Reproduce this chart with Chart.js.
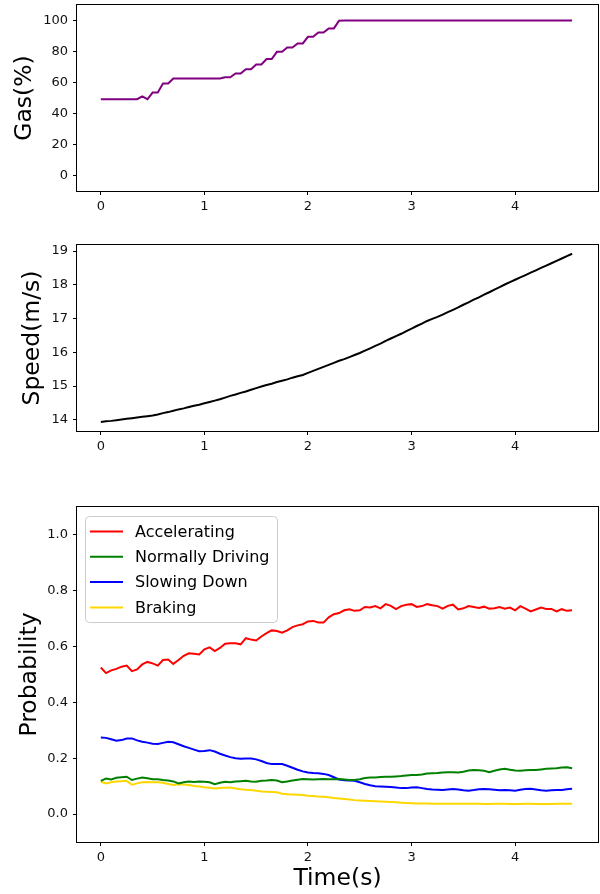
<!DOCTYPE html>
<html>
<head>
<title>Gas, speed and driving state</title>
<script src="https://cdn.jsdelivr.net/npm/chart.js@4"></script>
<style>
body { margin: 0; background: #fff; width: 600px; height: 894px; overflow: hidden; position: relative; }
canvas { position: absolute; left: 0; }
</style>
</head>
<body>
<canvas id="gasChart" width="600" height="222" style="top:0px"></canvas>
<canvas id="speedChart" width="600" height="236" style="top:222px"></canvas>
<canvas id="probChart" width="600" height="436" style="top:458px"></canvas>

<script>
// time axis (s)
var TIME = [0,0.05,0.1,0.15,0.2,0.25,0.3,0.35,0.4,0.45,
  0.5,0.55,0.6,0.65,0.7,0.75,0.8,0.85,0.9,0.95,
  1,1.05,1.1,1.15,1.2,1.25,1.3,1.35,1.4,1.45,
  1.5,1.55,1.6,1.65,1.7,1.75,1.8,1.85,1.9,1.95,
  2,2.05,2.1,2.15,2.2,2.25,2.3,2.35,2.4,2.45,
  2.5,2.55,2.6,2.65,2.7,2.75,2.8,2.85,2.9,2.95,
  3,3.05,3.1,3.15,3.2,3.25,3.3,3.35,3.4,3.45,
  3.5,3.55,3.6,3.65,3.7,3.75,3.8,3.85,3.9,3.95,
  4,4.05,4.1,4.15,4.2,4.25,4.3,4.35,4.4,4.45,
  4.5,4.55];

// Gas(%)
var GAS = [49.2,49.2,49.2,49.2,49.2,49.2,49.2,49.2,51,49.2,
  53.5,53.5,59.3,59.3,62.6,62.6,62.6,62.6,62.6,62.6,
  62.6,62.6,62.6,62.6,63.4,63.4,65.8,65.8,68.6,68.6,
  71.6,71.6,75.1,75.1,79.8,79.8,82.6,82.6,85.2,85.2,
  89.5,89.5,92.3,92.3,94.9,94.9,99.9,100,100,100,
  100,100,100,100,100,100,100,100,100,100,
  100,100,100,100,100,100,100,100,100,100,
  100,100,100,100,100,100,100,100,100,100,
  100,100,100,100,100,100,100,100,100,100,
  100,100];

// Speed(m/s)
var SPEED = [13.94,13.96,13.97,13.99,14.01,14.03,14.05,14.07,14.09,14.11,
  14.13,14.16,14.2,14.23,14.27,14.31,14.34,14.38,14.42,14.45,
  14.49,14.53,14.57,14.61,14.66,14.71,14.75,14.8,14.84,14.89,
  14.94,14.99,15.03,15.07,15.12,15.16,15.2,15.25,15.29,15.33,
  15.39,15.45,15.51,15.57,15.63,15.69,15.75,15.8,15.86,15.92,
  15.98,16.05,16.12,16.19,16.26,16.34,16.41,16.48,16.55,16.63,
  16.7,16.78,16.85,16.93,16.99,17.05,17.12,17.19,17.26,17.33,
  17.41,17.48,17.56,17.63,17.71,17.78,17.86,17.93,18.01,18.08,
  18.15,18.22,18.29,18.36,18.43,18.5,18.57,18.64,18.71,18.78,
  18.85,18.92];

// probabilities
var ACCELERATING = [0.525,0.505,0.515,0.52,0.528,0.532,0.512,0.518,0.536,0.545,
  0.54,0.532,0.552,0.554,0.538,0.552,0.567,0.576,0.574,0.572,
  0.59,0.597,0.584,0.595,0.61,0.612,0.612,0.608,0.63,0.625,
  0.622,0.636,0.648,0.658,0.656,0.65,0.658,0.67,0.676,0.68,
  0.69,0.692,0.686,0.686,0.705,0.716,0.72,0.73,0.734,0.728,
  0.73,0.742,0.74,0.745,0.737,0.752,0.746,0.734,0.745,0.75,
  0.752,0.742,0.745,0.752,0.748,0.745,0.736,0.746,0.75,0.733,
  0.737,0.745,0.742,0.738,0.743,0.736,0.737,0.742,0.736,0.74,
  0.73,0.745,0.736,0.726,0.733,0.74,0.735,0.735,0.726,0.734,
  0.728,0.73];

var NORMALLY_DRIVING = [0.119,0.127,0.124,0.13,0.132,0.134,0.122,0.127,0.131,0.128,
  0.125,0.125,0.122,0.12,0.117,0.11,0.114,0.117,0.115,0.117,
  0.116,0.114,0.107,0.112,0.116,0.114,0.117,0.118,0.119,0.117,
  0.116,0.119,0.12,0.122,0.12,0.114,0.117,0.12,0.123,0.126,
  0.125,0.124,0.125,0.126,0.125,0.125,0.126,0.124,0.122,0.122,
  0.125,0.129,0.131,0.131,0.133,0.134,0.134,0.135,0.136,0.138,
  0.14,0.14,0.142,0.145,0.146,0.147,0.149,0.15,0.15,0.149,
  0.152,0.156,0.158,0.157,0.155,0.15,0.155,0.16,0.162,0.159,
  0.156,0.155,0.157,0.158,0.158,0.16,0.162,0.163,0.164,0.167,
  0.168,0.164];

var SLOWING_DOWN = [0.274,0.273,0.268,0.263,0.265,0.271,0.271,0.264,0.259,0.256,
  0.252,0.251,0.255,0.259,0.257,0.25,0.243,0.237,0.231,0.225,
  0.226,0.229,0.224,0.216,0.21,0.204,0.2,0.198,0.199,0.199,
  0.196,0.19,0.183,0.179,0.179,0.179,0.173,0.166,0.159,0.153,
  0.149,0.147,0.146,0.144,0.14,0.132,0.124,0.121,0.12,0.119,
  0.114,0.108,0.103,0.1,0.099,0.098,0.097,0.095,0.093,0.093,
  0.095,0.096,0.093,0.09,0.088,0.087,0.086,0.088,0.09,0.088,
  0.085,0.084,0.086,0.089,0.09,0.089,0.087,0.085,0.086,0.085,
  0.084,0.087,0.09,0.091,0.088,0.085,0.084,0.085,0.086,0.086,
  0.089,0.091];

var BRAKING = [0.116,0.11,0.114,0.117,0.118,0.119,0.105,0.11,0.114,0.115,
  0.114,0.114,0.112,0.108,0.104,0.107,0.106,0.104,0.101,0.099,
  0.096,0.094,0.092,0.093,0.094,0.095,0.092,0.089,0.087,0.086,
  0.084,0.081,0.08,0.079,0.078,0.073,0.071,0.07,0.069,0.068,
  0.066,0.065,0.063,0.062,0.06,0.058,0.056,0.054,0.052,0.05,
  0.049,0.048,0.047,0.046,0.045,0.044,0.043,0.042,0.041,0.04,
  0.039,0.038,0.038,0.038,0.037,0.037,0.037,0.037,0.037,0.037,
  0.037,0.037,0.037,0.037,0.036,0.036,0.037,0.037,0.037,0.036,
  0.036,0.036,0.037,0.037,0.036,0.036,0.036,0.036,0.037,0.037,
  0.037,0.037];

var X_TICKS = [0, 1, 2, 3, 4];
var GAS_TICKS = [0, 20, 40, 60, 80, 100];
var SPEED_TICKS = [14, 15, 16, 17, 18, 19];
var PROB_TICKS = [0, 0.2, 0.4, 0.6, 0.8, 1.0];

Chart.defaults.font.family = "'DejaVu Sans', sans-serif";
Chart.defaults.color = '#111';

function points(values) {
  return TIME.map(function (t, i) { return { x: t, y: values[i] }; });
}

function line(label, values, color) {
  return { label: label, data: points(values), borderColor: color, backgroundColor: color,
           borderWidth: 2, pointRadius: 0, tension: 0, fill: false };
}

// matplotlib style box round the plot
var frame = {
  id: 'frame',
  afterDatasetsDraw: function (chart) {
    var a = chart.chartArea, c = chart.ctx;
    c.save();
    c.strokeStyle = '#000';
    c.lineWidth = 1;
    c.strokeRect(a.left - 0.5, a.top - 0.5, a.right - a.left + 1, a.bottom - a.top + 1);
    c.restore();
  }
};

// legend box in the upper left corner
var legendBox = {
  id: 'legendBox',
  afterDraw: function (chart) {
    var a = chart.chartArea, c = chart.ctx;
    var x0 = a.left + 8, y0 = a.top + 9, w = 192, h = 106;
    c.save();
    c.beginPath();
    c.roundRect(x0 + 0.5, y0 + 0.5, w, h, 4);
    c.fillStyle = 'rgba(255,255,255,0.8)';
    c.fill();
    c.strokeStyle = '#cccccc';
    c.lineWidth = 1;
    c.stroke();
    c.font = "16px 'DejaVu Sans'";
    c.textBaseline = 'middle';
    c.fillStyle = '#000';
    chart.data.datasets.forEach(function (ds, i) {
      var y = y0 + 15.5 + i * 25.3;
      c.beginPath();
      c.moveTo(x0 + 5, y);
      c.lineTo(x0 + 38, y);
      c.strokeStyle = ds.borderColor;
      c.lineWidth = 2;
      c.stroke();
      c.fillText(ds.label, x0 + 50, y + 1);
    });
    c.restore();
  }
};

function makeChart(id, datasets, cfg) {
  return new Chart(document.getElementById(id), {
    type: 'line',
    data: { datasets: datasets },
    plugins: cfg.legend ? [frame, legendBox] : [frame],
    options: {
      responsive: false,
      animation: false,
      devicePixelRatio: 1,
      layout: { padding: { top: cfg.top, right: 2, left: 0, bottom: 0 }, autoPadding: false },
      plugins: { legend: { display: false }, tooltip: { enabled: false } },
      scales: {
        x: {
          type: 'linear', min: -0.23, max: 4.8, bounds: 'data',
          afterBuildTicks: function (s) { s.ticks = X_TICKS.map(function (v) { return { value: v }; }); },
          afterFit: function (s) { s.height = cfg.xHeight; s.paddingLeft = 0; s.paddingRight = 0; },
          ticks: { autoSkip: false, maxRotation: 0, padding: 4, font: { size: 13 },
                   callback: function (v) { return String(v); } },
          grid: { drawOnChartArea: false, tickLength: 4, color: '#000' },
          border: { display: false },
          title: { display: !!cfg.xTitle, text: cfg.xTitle || '', color: '#000',
                   font: { size: 23.5 }, padding: { top: 0, bottom: 1 } }
        },
        y: {
          min: cfg.yMin, max: cfg.yMax, bounds: 'data',
          afterBuildTicks: function (s) { s.ticks = cfg.yTicks.map(function (v) { return { value: v }; }); },
          afterFit: function (s) { s.width = 77; s.paddingTop = 0; s.paddingBottom = 0; },
          ticks: { padding: 5, font: { size: 13 }, callback: cfg.yFormat },
          grid: { drawOnChartArea: false, tickLength: 4, color: '#000' },
          border: { display: false },
          title: { display: true, text: cfg.yTitle, color: '#000',
                   font: { size: 23.5 }, padding: { top: cfg.titlePad, bottom: 0 } }
        }
      }
    }
  });
}

makeChart('gasChart', [line('Gas', GAS, '#800080')], {
  top: 5, xHeight: 31, yMin: -10, yMax: 110, yTicks: GAS_TICKS,
  yTitle: 'Gas(%)', titlePad: 11, yFormat: function (v) { return String(v); }
});

makeChart('speedChart', [line('Speed', SPEED, '#000000')], {
  top: 23, xHeight: 27, yMin: 13.67, yMax: 19.18, yTicks: SPEED_TICKS,
  yTitle: 'Speed(m/s)', titlePad: 19, yFormat: function (v) { return String(v); }
});

makeChart('probChart', [
  line('Accelerating', ACCELERATING, '#ff0000'),
  line('Normally Driving', NORMALLY_DRIVING, '#008000'),
  line('Slowing Down', SLOWING_DOWN, '#0000ff'),
  line('Braking', BRAKING, '#ffd700')
], {
  top: 49, xHeight: 52, yMin: -0.1, yMax: 1.1, yTicks: PROB_TICKS,
  yTitle: 'Probability', titlePad: 15.5, xTitle: 'Time(s)', legend: true,
  yFormat: function (v) { return v.toFixed(1); }
});
</script>
</body>
</html>
